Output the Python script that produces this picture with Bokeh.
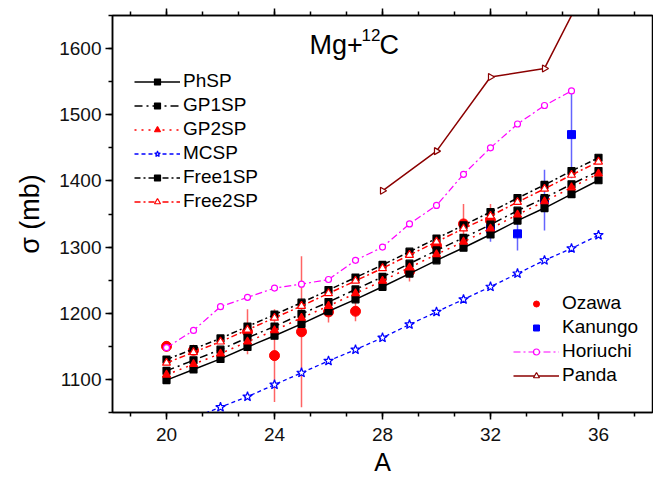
from math import pi
from bokeh.plotting import figure
from bokeh.models import (Legend, LegendItem, Label, LinearAxis, SingleIntervalTicker,
                          Range1d, ColumnDataSource, Title, CustomLabelingPolicy)
from bokeh.embed import file_html
from bokeh.resources import INLINE

# ---------------- data ----------------
A_model = [20, 21, 22, 23, 24, 25, 26, 27, 28, 29, 30, 31, 32, 33, 34, 35, 36]
PhSP    = [1099, 1115, 1131, 1149, 1166, 1184, 1203, 1221, 1240, 1260, 1280, 1299, 1319, 1340, 1359, 1380, 1401]
GP1SP   = [1113, 1129, 1145, 1163, 1180, 1199, 1217, 1236, 1255, 1275, 1295, 1314, 1334, 1355, 1374, 1395, 1415]
GP2SP   = [1107, 1123, 1139, 1157, 1174, 1193, 1211, 1230, 1249, 1269, 1289, 1308, 1328, 1349, 1369, 1390, 1411]
MCSP    = [1025, 1042, 1058, 1074, 1092, 1110, 1128, 1145, 1163, 1183, 1202, 1221, 1240, 1260, 1280, 1298, 1318]
Free1SP = [1130, 1146, 1162, 1180, 1198, 1216, 1235, 1254, 1273, 1293, 1313, 1333, 1353, 1374, 1394, 1415, 1435]
Free2SP = [1125, 1141, 1157, 1175, 1193, 1211, 1230, 1249, 1268, 1288, 1308, 1328, 1347, 1368, 1388, 1409, 1429]

A_hori   = [20, 21, 22, 23, 24, 25, 26, 27, 28, 29, 30, 31, 32, 33, 34, 35]
Horiuchi = [1148, 1174, 1210, 1224, 1238, 1244, 1251, 1280, 1300, 1335, 1363, 1410, 1450, 1486, 1514, 1536]

A_panda = [28, 30, 32, 34, 36]
Panda   = [1385, 1445, 1557, 1570, 1730]

A_ozawa   = [20, 21, 23, 24, 25, 26, 27, 29, 30, 31, 32]
Ozawa     = [1150, 1144, 1172, 1136, 1172, 1202, 1203, 1263, 1302, 1335, 1340]
Ozawa_err = [8, 4, 34, 70, 114, 16, 15, 15, 8, 30, 25]

A_kan   = [32, 33, 34, 35]
Kanungo = [1328, 1320, 1371, 1470]
Kan_err = [20, 25, 46, 66]

x_ticks_major = 4
y_ticks_major = 100

FONT = "Liberation Sans"

# ---------------- figure ----------------
p = figure(width=653, height=481, x_range=Range1d(18, 38), y_range=Range1d(1050, 1650),
           output_backend="svg", toolbar_location=None,
           min_border_left=112, min_border_right=1, min_border_top=15, min_border_bottom=69)
p.xgrid.visible = False
p.ygrid.visible = False
p.outline_line_color = "black"
p.outline_line_width = 1.5
p.background_fill_color = "white"
p.border_fill_color = "white"

def style_axis(ax, ticker, show_labels=True):
    ax.ticker = ticker
    ax.axis_line_width = 1.5
    ax.major_tick_line_width = 1.5
    ax.minor_tick_line_width = 1.5
    ax.major_tick_in = 0
    ax.major_tick_out = 7
    ax.minor_tick_in = 0
    ax.minor_tick_out = 4
    ax.major_label_text_font = FONT
    ax.major_label_text_font_style = "normal"
    ax.major_label_text_color = "#111111"
    ax.axis_label_text_font = FONT
    ax.axis_label_text_font_style = "normal"
    ax.axis_label_text_color = "black"
    if show_labels:
        ax.major_label_text_font_size = "19px"
    else:
        ax.major_label_text_font_size = "0px"
        ax.major_label_standoff = 0
        ax.major_label_policy = CustomLabelingPolicy(
            code="for (const i of indices) { indices.unset(i) }\nreturn indices")

xt = SingleIntervalTicker(interval=x_ticks_major, num_minor_ticks=3)
yt = SingleIntervalTicker(interval=y_ticks_major, num_minor_ticks=2)

style_axis(p.xaxis[0], xt)
p.xaxis[0].major_label_standoff = 8
p.xaxis[0].axis_label = "A"
p.xaxis[0].axis_label_text_font_size = "25px"
p.xaxis[0].axis_label_standoff = 4

style_axis(p.yaxis[0], yt)
p.yaxis[0].major_label_standoff = 4

top_axis = LinearAxis()
style_axis(top_axis, SingleIntervalTicker(interval=x_ticks_major, num_minor_ticks=3), show_labels=False)
p.add_layout(top_axis, "above")

# y axis title (shifted down like the reference)
p.add_layout(Title(text="σ (mb)", align="center", offset=-30, standoff=21,
                   vertical_align="middle",
                   text_font=FONT, text_font_size="27px", text_font_style="normal",
                   text_color="black"), "left")

# ---------------- experimental data (drawn first) ----------------
oz = ColumnDataSource(dict(x=A_ozawa, y=Ozawa,
                           lo=[v - e for v, e in zip(Ozawa, Ozawa_err)],
                           hi=[v + e for v, e in zip(Ozawa, Ozawa_err)]))
kn = ColumnDataSource(dict(x=A_kan, y=Kanungo,
                           lo=[v - e for v, e in zip(Kanungo, Kan_err)],
                           hi=[v + e for v, e in zip(Kanungo, Kan_err)]))
p.segment(x0="x", y0="lo", x1="x", y1="hi", source=oz, line_color="#ff3030", line_alpha=0.75, line_width=1.5)
p.segment(x0="x", y0="lo", x1="x", y1="hi", source=kn, line_color="#3030ff", line_alpha=0.75, line_width=1.5)
r_oz = p.scatter("x", "y", source=oz, marker="circle", size=10, fill_color="red", line_color="red")
r_kn = p.scatter("x", "y", source=kn, marker="square", size=8, fill_color="#0000ff", line_color="#0000ff")

# ---------------- model curves ----------------
def series(x, y, color, dash, marker, fill, size, lw=1.5, angle=0.0):
    rl = p.line(x, y, line_color=color, line_dash=dash, line_width=lw)
    rs = p.scatter(x, y, marker=marker, size=size, line_color=color,
                   fill_color=(color if fill else "white"), line_width=1.2, angle=angle)
    return [rl, rs]

r_ph  = series(A_model, PhSP, "black", "solid", "square", True, 7)
r_gp1 = series(A_model, GP1SP, "black", "8 4 2 4", "square", True, 7)
r_gp2 = series(A_model, GP2SP, "#ff0000", "2 5", "triangle", True, 8)
r_mc  = series(A_model, MCSP, "#0000ff", "4 3", "star", False, 10, lw=1.3)
r_f1  = series(A_model, Free1SP, "black", "6 3 2 3", "square", True, 7)
r_f2  = series(A_model, Free2SP, "#ff0000", "6 3 2 3", "triangle", False, 8)
r_ho  = series(A_hori, Horiuchi, "#ff00ff", "7 3 2 3", "circle", False, 6, lw=1.2)
r_pa  = series(A_panda, Panda, "#8b0000", "solid", "triangle", False, 7, lw=1.5, angle=-pi / 2)

def make_legend(items, loc):
    lg = Legend(items=items, location=loc)
    lg.background_fill_alpha = 0
    lg.border_line_alpha = 0
    lg.padding = 0
    lg.margin = 0
    lg.glyph_width = 46
    lg.glyph_height = 15
    lg.label_height = 22
    lg.label_standoff = 3
    lg.spacing = 2
    lg.label_text_font = FONT
    lg.label_text_font_size = "19px"
    lg.label_text_color = "black"
    return lg

leg1 = make_legend([
    LegendItem(label="PhSP", renderers=r_ph),
    LegendItem(label="GP1SP", renderers=r_gp1),
    LegendItem(label="GP2SP", renderers=r_gp2),
    LegendItem(label="MCSP", renderers=r_mc),
    LegendItem(label="Free1SP", renderers=r_f1),
    LegendItem(label="Free2SP", renderers=r_f2),
], (22, 200))
leg2 = make_legend([
    LegendItem(label="Ozawa", renderers=[r_oz]),
    LegendItem(label="Kanungo", renderers=[r_kn]),
    LegendItem(label="Horiuchi", renderers=r_ho),
    LegendItem(label="Panda", renderers=r_pa),
], (401, 26))
p.add_layout(leg1)
p.add_layout(leg2)

# ---------------- title ----------------
def lab(text, x, y, size, **kw):
    p.add_layout(Label(text=text, x=x, y=y, x_units="screen", y_units="screen",
                       text_font=FONT, text_font_size=size, text_color="black", **kw))

lab("Mg+", 197, 368, "27px", text_baseline="alphabetic", text_align="left")
lab("12", 249, 378, "17px", text_baseline="alphabetic", text_align="left")
lab("C", 267, 368, "27px", text_baseline="alphabetic", text_align="left")

open("out.html", "w").write(file_html(p, INLINE))
